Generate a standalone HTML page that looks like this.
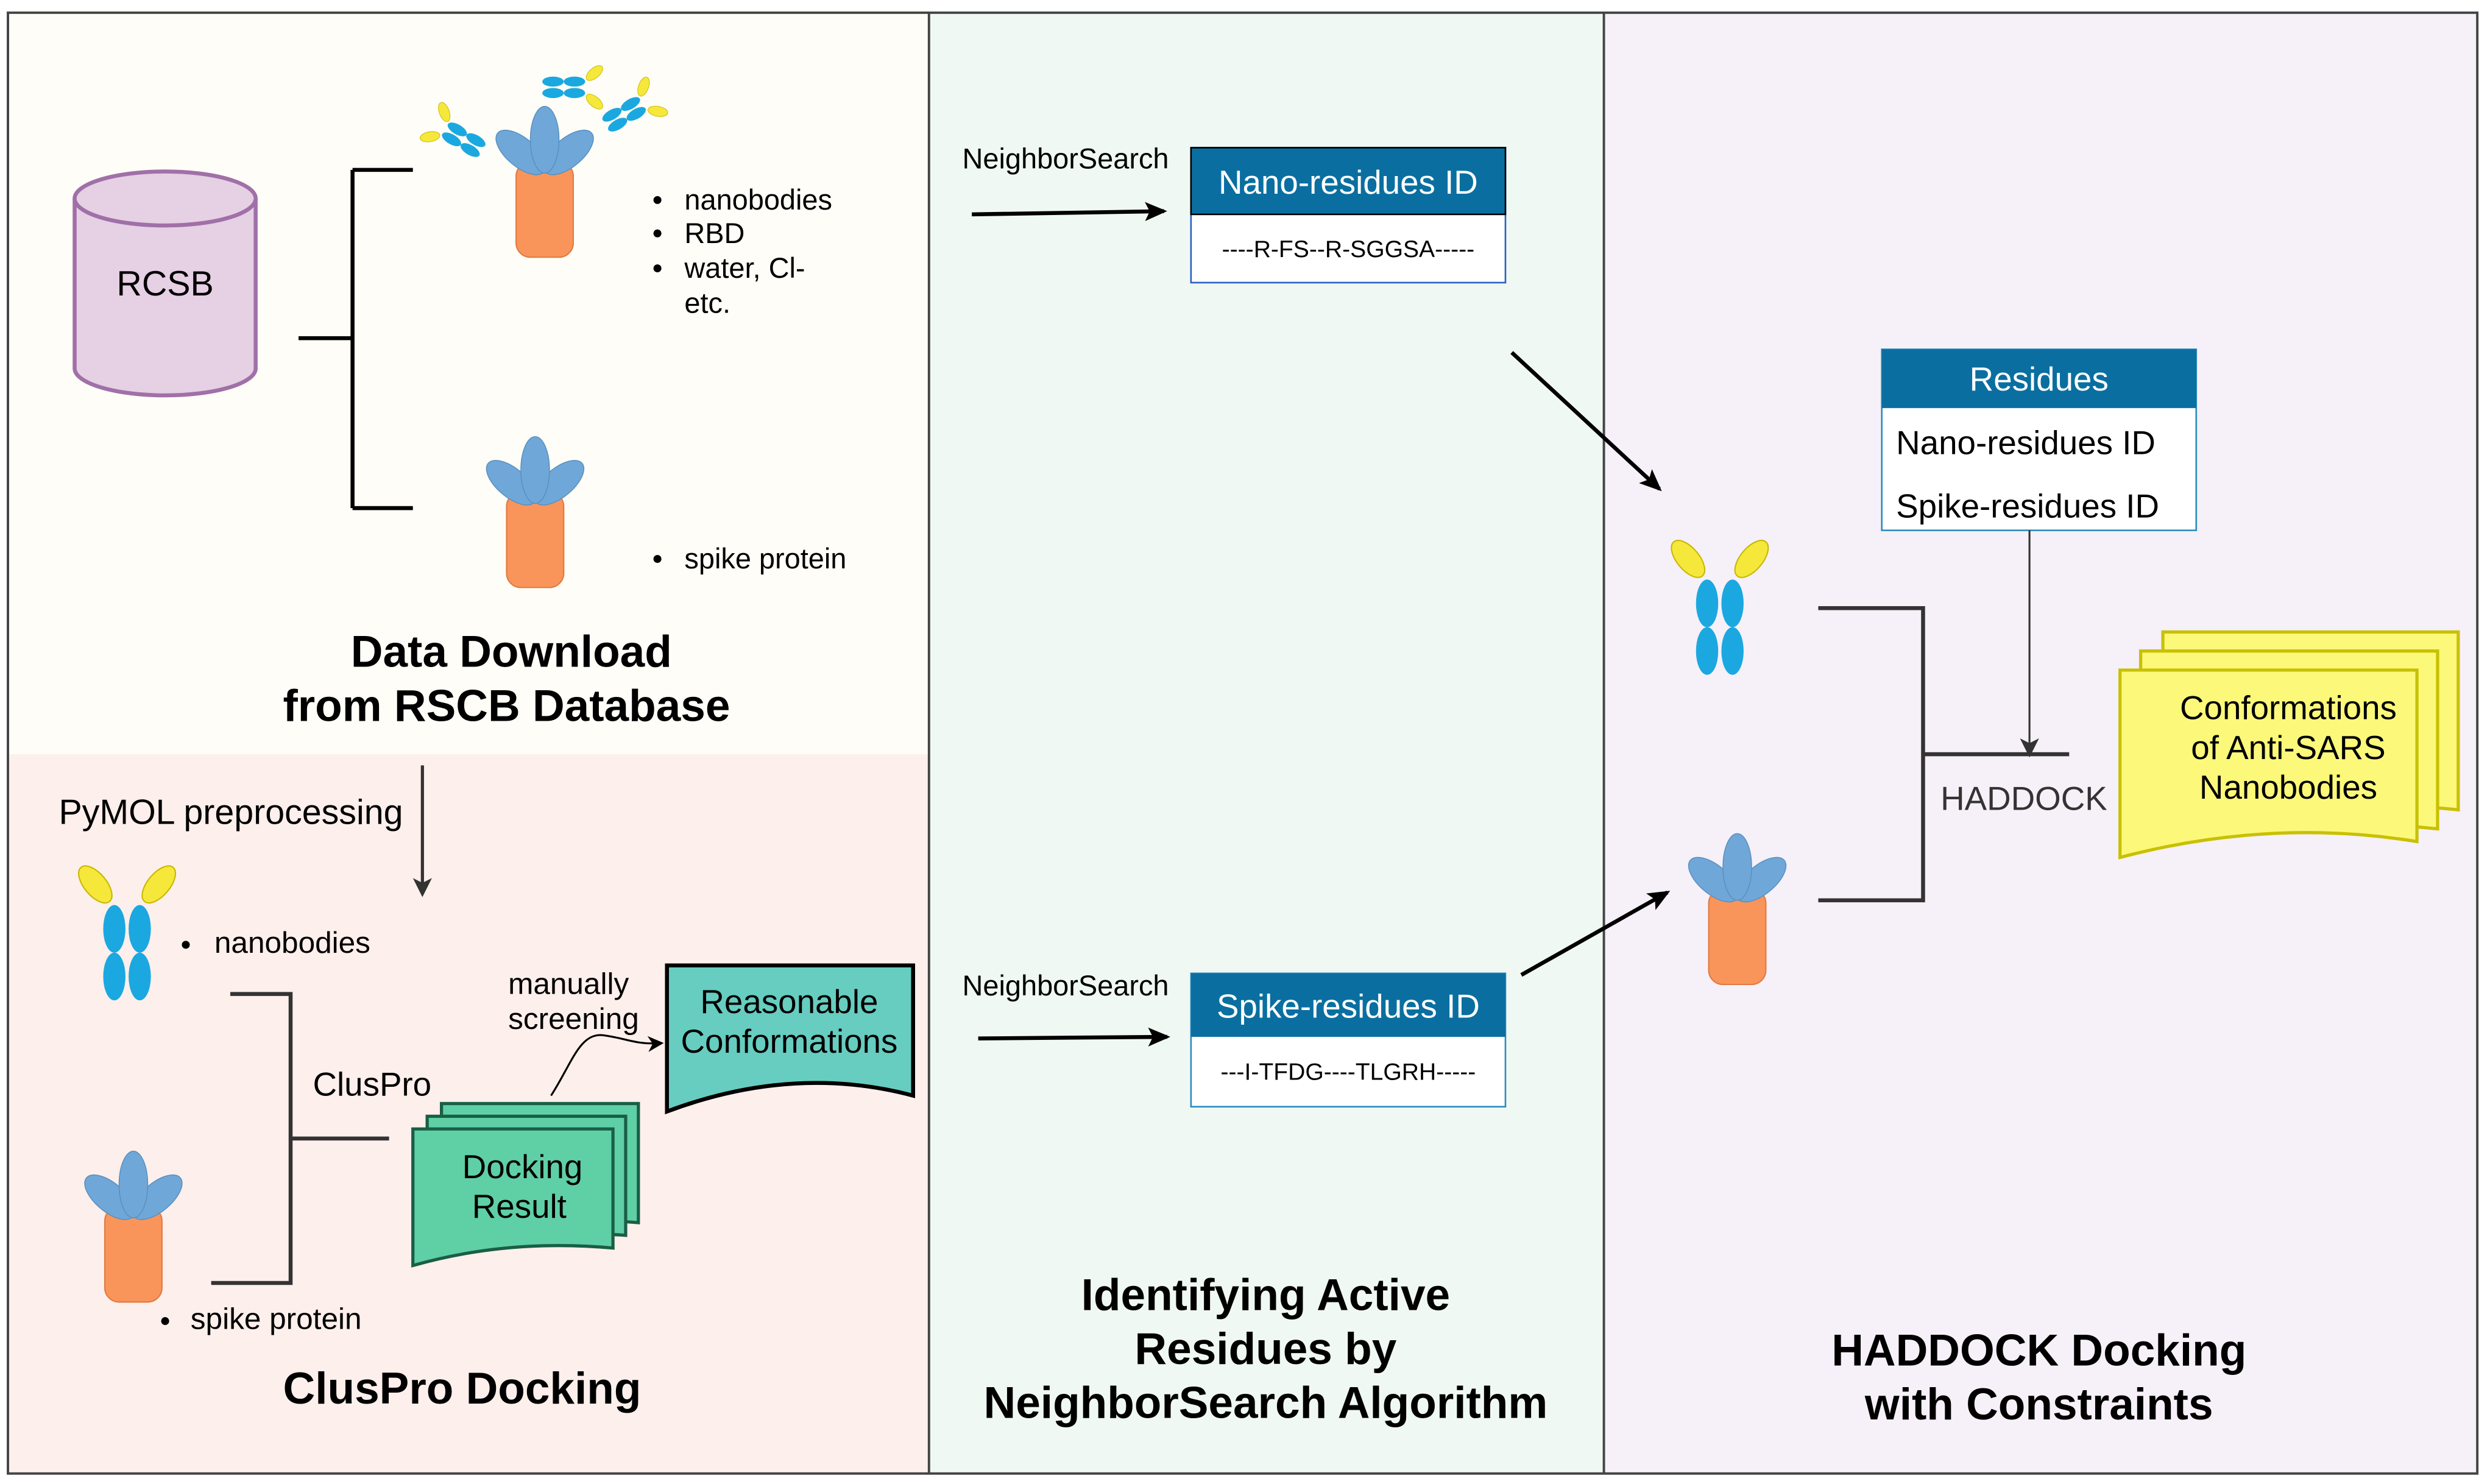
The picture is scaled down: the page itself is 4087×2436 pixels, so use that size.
<!DOCTYPE html>
<html><head><meta charset="utf-8"><style>html,body{margin:0;padding:0;background:#fff}svg{display:block}text{font-family:"Liberation Sans",Arial,sans-serif}</style></head><body>
<svg width="4087" height="2436" viewBox="0 0 1568 934.6" preserveAspectRatio="none" xmlns="http://www.w3.org/2000/svg">
<defs>
<marker id="ah" markerWidth="10" markerHeight="10" refX="8" refY="5" orient="auto" markerUnits="userSpaceOnUse"><path d="M0,0 L10,5 L0,10 L3,5 z" fill="#000"/></marker>
<marker id="ah2" markerWidth="14" markerHeight="12" refX="12" refY="6" orient="auto" markerUnits="userSpaceOnUse"><path d="M0,0 L14,6 L0,12 L3,6 z" fill="#000"/></marker>
<marker id="ahg" markerWidth="12" markerHeight="12" refX="10" refY="6" orient="auto" markerUnits="userSpaceOnUse"><path d="M0,0 L12,6 L0,12 L3,6 z" fill="#333"/></marker>
<g id="spike"><rect x="-18" y="-10" width="36" height="60" rx="9" fill="#f9955a" stroke="#e07a40" stroke-width="0.8"/>
<ellipse cx="-15" cy="-16" rx="9" ry="19" transform="rotate(-50 -15 -16)" fill="#6fa8d8" stroke="#5a90c0" stroke-width="0.6"/>
<ellipse cx="15" cy="-16" rx="9" ry="19" transform="rotate(50 15 -16)" fill="#6fa8d8" stroke="#5a90c0" stroke-width="0.6"/>
<ellipse cx="0" cy="-24" rx="9" ry="21" fill="#6fa8d8" stroke="#5a90c0" stroke-width="0.6"/></g>
<g id="nano"><ellipse cx="-8" cy="-15" rx="7" ry="15" fill="#1ba8e0"/><ellipse cx="8" cy="-15" rx="7" ry="15" fill="#1ba8e0"/>
<ellipse cx="-8" cy="15" rx="7" ry="15" fill="#1ba8e0"/><ellipse cx="8" cy="15" rx="7" ry="15" fill="#1ba8e0"/>
<ellipse cx="-20" cy="-43" rx="7" ry="14" transform="rotate(-40 -20 -43)" fill="#f5e83a" stroke="#c8b800" stroke-width="0.8"/>
<ellipse cx="20" cy="-43" rx="7" ry="14" transform="rotate(40 20 -43)" fill="#f5e83a" stroke="#c8b800" stroke-width="0.8"/></g>
</defs>
<rect x="0" y="0" width="1568" height="935" fill="#fff"/>
<rect x="5" y="8" width="580" height="467" fill="#fefdf7"/>
<rect x="5" y="475" width="580" height="453" fill="#fdefeb"/>
<rect x="585" y="8" width="425" height="920" fill="#f0f8f3"/>
<rect x="1010" y="8" width="550" height="920" fill="#f6f0f8"/>
<rect x="5" y="8" width="1555" height="920" fill="none" stroke="#444" stroke-width="1.5"/>
<line x1="585" y1="8" x2="585" y2="928" stroke="#444" stroke-width="1.5"/>
<line x1="1010" y1="8" x2="1010" y2="928" stroke="#444" stroke-width="1.5"/>

<!-- Panel 1 -->
<path d="M47,125 L47,232 A57,17 0 0 0 161,232 L161,125" fill="#e6d0e4" stroke="#a070a8" stroke-width="2.5"/>
<ellipse cx="104" cy="125" rx="57" ry="17" fill="#e6d0e4" stroke="#a070a8" stroke-width="2.5"/>
<text x="104" y="186" font-size="22" text-anchor="middle">RCSB</text>
<path d="M188,213 H222 M222,107 V320 M222,107 H260 M222,320 H260" stroke="#000" stroke-width="2.5" fill="none"/>
<use href="#spike" x="343" y="112"/>
<g transform="translate(292,88) rotate(-60) scale(0.45)"><use href="#nano"/></g>
<g transform="translate(355,55) rotate(90) scale(0.45)"><use href="#nano"/></g>
<g transform="translate(393,72) rotate(60) scale(0.45)"><use href="#nano"/></g>
<use href="#spike" x="337" y="320"/>
<g font-size="18"><circle cx="414" cy="126" r="2.5"/><text x="431" y="132">nanobodies</text>
<circle cx="414" cy="147" r="2.5"/><text x="431" y="153">RBD</text>
<circle cx="414" cy="169" r="2.5"/><text x="431" y="175">water, Cl-</text>
<text x="431" y="197">etc.</text>
<circle cx="414" cy="352" r="2.5"/><text x="431" y="358">spike protein</text></g>
<text x="322" y="420" font-size="28" font-weight="bold" text-anchor="middle">Data Download</text>
<text x="319" y="454" font-size="28" font-weight="bold" text-anchor="middle">from RSCB Database</text>

<!-- bottom-left -->
<text x="37" y="519" font-size="22">PyMOL preprocessing</text>
<line x1="266" y1="482" x2="266" y2="563" stroke="#333" stroke-width="2" marker-end="url(#ahg)"/>
<use href="#nano" x="80" y="600"/>
<circle cx="117" cy="595" r="2.5"/><text x="135" y="600" font-size="19">nanobodies</text>
<use href="#spike" x="84" y="770"/>
<circle cx="104" cy="832" r="2.5"/><text x="120" y="837" font-size="19">spike protein</text>
<path d="M145,626 H183 V808 H133 M183,717 H245" stroke="#333" stroke-width="2.5" fill="none"/>
<text x="197" y="690" font-size="21">ClusPro</text>
<g stroke="#1a5e46" stroke-width="2" fill="#5fcfa6">
<path d="M278,695 H402 V770 Q340,765 278,785 Z"/>
<path d="M269,703 H394 V778 Q330,773 269,793 Z"/>
<path d="M260,711 H386 V786 Q320,780 260,797 Z"/></g>
<text x="329" y="742" font-size="21" text-anchor="middle">Docking</text>
<text x="327" y="767" font-size="21" text-anchor="middle">Result</text>
<path d="M420,608 H575 V690 Q500,670 420,700 Z" fill="#66cdc0" stroke="#000" stroke-width="2.5"/>
<text x="497" y="638" font-size="21" text-anchor="middle">Reasonable</text>
<text x="497" y="663" font-size="21" text-anchor="middle">Conformations</text>
<text x="320" y="626" font-size="19">manually</text>
<text x="320" y="648" font-size="19">screening</text>
<path d="M347,690 C360,670 365,650 380,652 C395,654 400,658 416,657" stroke="#000" stroke-width="1.2" fill="none" marker-end="url(#ah)"/>
<text x="291" y="884" font-size="28" font-weight="bold" text-anchor="middle">ClusPro Docking</text>

<!-- Panel 2 -->
<text x="606" y="106" font-size="18">NeighborSearch</text>
<line x1="612" y1="135" x2="733" y2="133" stroke="#000" stroke-width="2.5" marker-end="url(#ah2)"/>
<rect x="750" y="93" width="198" height="85" fill="#fff" stroke="#2a60c0" stroke-width="1"/>
<rect x="750" y="93" width="198" height="42" fill="#0a6fa0" stroke="#000" stroke-width="1"/>
<text x="849" y="122" font-size="21" fill="#fff" text-anchor="middle">Nano-residues ID</text>
<text x="849" y="162" font-size="15" text-anchor="middle">----R-FS--R-SGGSA-----</text>
<text x="606" y="627" font-size="18">NeighborSearch</text>
<line x1="616" y1="654" x2="735" y2="653" stroke="#000" stroke-width="2.5" marker-end="url(#ah2)"/>
<rect x="750" y="613" width="198" height="84" fill="#fff" stroke="#2a8cc0" stroke-width="1"/>
<rect x="750" y="613" width="198" height="40" fill="#0a6fa0"/>
<text x="849" y="641" font-size="21" fill="#fff" text-anchor="middle">Spike-residues ID</text>
<text x="849" y="680" font-size="15" text-anchor="middle">---I-TFDG----TLGRH-----</text>
<line x1="952" y1="222" x2="1045" y2="308" stroke="#000" stroke-width="2.5" marker-end="url(#ah2)"/>
<line x1="958" y1="614" x2="1050" y2="562" stroke="#000" stroke-width="2.5" marker-end="url(#ah2)"/>
<g font-size="28" font-weight="bold" text-anchor="middle">
<text x="797" y="825">Identifying  Active</text>
<text x="797" y="859">Residues by</text>
<text x="797" y="893">NeighborSearch  Algorithm</text></g>

<!-- Panel 3 -->
<rect x="1185" y="220" width="198" height="114" fill="#fff" stroke="#2a8cc0" stroke-width="1"/>
<rect x="1185" y="220" width="198" height="37" fill="#0a6fa0"/>
<text x="1284" y="246" font-size="21" fill="#fff" text-anchor="middle">Residues</text>
<text x="1194" y="286" font-size="21">Nano-residues ID</text>
<text x="1194" y="326" font-size="21">Spike-residues ID</text>
<line x1="1278" y1="334" x2="1278" y2="475" stroke="#333" stroke-width="1.2" marker-end="url(#ahg)"/>
<use href="#nano" x="1083" y="395"/>
<use href="#spike" x="1094" y="570"/>
<path d="M1145,383 H1211 V567 H1145 M1211,475 H1303" stroke="#333" stroke-width="2.5" fill="none"/>
<text x="1222" y="510" font-size="21" fill="#333">HADDOCK</text>
<g stroke="#c8c000" stroke-width="2" fill="#fbf87a">
<path d="M1362,398 H1548 V510 Q1450,500 1362,520 Z"/>
<path d="M1348,410 H1535 V522 Q1440,512 1348,532 Z"/>
<path d="M1335,422 H1522 V530 Q1430,515 1335,540 Z"/></g>
<text x="1441" y="453" font-size="21" text-anchor="middle">Conformations</text>
<text x="1441" y="478" font-size="21" text-anchor="middle">of Anti-SARS</text>
<text x="1441" y="503" font-size="21" text-anchor="middle">Nanobodies</text>
<text x="1284" y="860" font-size="28" font-weight="bold" text-anchor="middle">HADDOCK Docking</text>
<text x="1284" y="894" font-size="28" font-weight="bold" text-anchor="middle">with Constraints</text>
</svg>
</body></html>
